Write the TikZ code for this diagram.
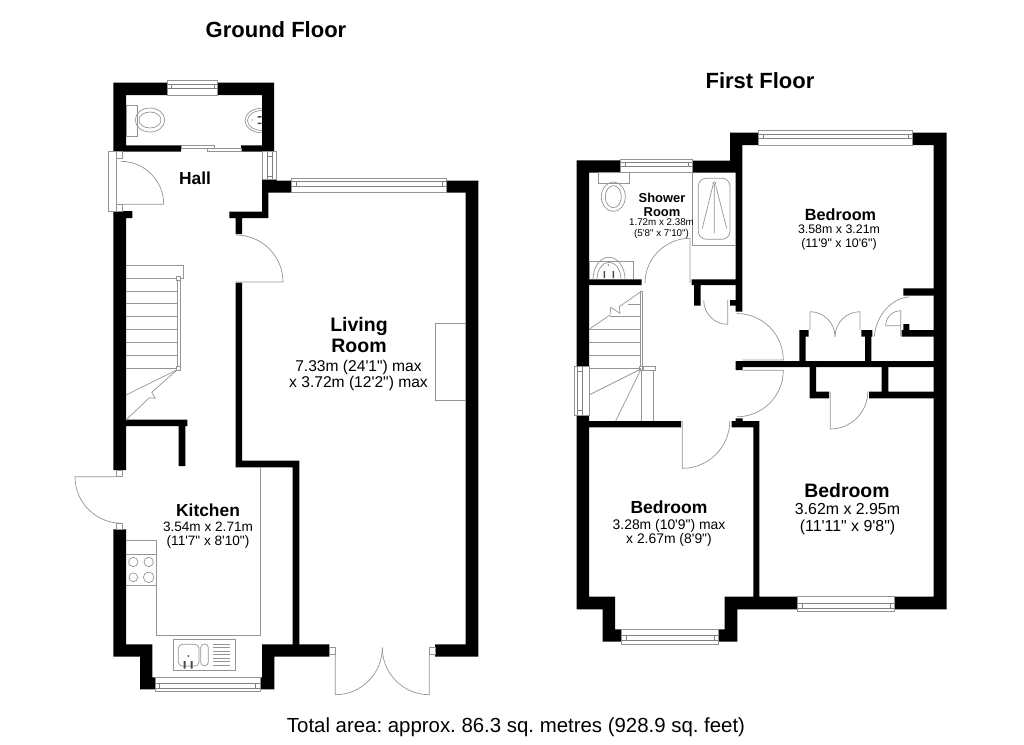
\documentclass[tikz,border=0pt]{standalone}
\usepackage{fontspec}
\setmainfont{Liberation Sans}
\newfontfamily\dimsfont{Liberation Sans}
\frenchspacing
\tikzset{
    wall/.style={fill=black,draw=none},
    fixture/.style={draw=black!42,line width=0.7pt},
    thinfix/.style={draw=black!50,line width=0.45pt},
    tap/.style={fill=black!70,draw=none},
    floorname/.style={font=\bfseries\fontsize{22}{24}\selectfont},
    roomname/.style={align=center,font=\bfseries\fontsize{17.4}{19}\selectfont},
    dims/.style={align=center,font=\dimsfont\fontsize{13.6}{14.7}\selectfont},
}
\begin{document}
\begin{tikzpicture}[x=1pt,y=-1pt]
    \useasboundingbox (0,0) rectangle (1024,744);

    % ground floor walls
    \fill[wall] (113.3,82.7) -- (167,82.7) -- (167,95) -- (126,95) -- (126,145.3) -- (181,145.3) -- (181,151.7) -- (113.3,151.7) -- cycle;
    \fill[wall] (217.7,82.7) -- (274,82.7) -- (274,151.7) -- (241,151.7) -- (241,145.3) -- (262,145.3) -- (262,95) -- (217.7,95) -- cycle;
    \fill[wall] (113.3,211) -- (132.3,211) -- (132.3,218) -- (126,218) -- (126,419.7) -- (187.3,419.7) -- (187.3,426) -- (185.3,426) -- (185.3,466) -- (178.7,466) -- (178.7,426) -- (126,426) -- (126,470) -- (113.3,470) -- cycle;
    \fill[wall] (113.3,529.3) -- (126,529.3) -- (126,644.3) -- (152.3,644.3) -- (152.3,677.3) -- (155,677.3) -- (155,689.3) -- (140,689.3) -- (140,656.7) -- (113.3,656.7) -- cycle;
    \fill[wall] (260,677.3) -- (262,677.3) -- (262,644.3) -- (292.7,644.3) -- (292.7,467.3) -- (235.7,467.3) -- (235.7,282.7) -- (242,282.7) -- (242,460.7) -- (299.3,460.7) -- (299.3,644.3) -- (329.3,644.3) -- (329.3,656.7) -- (274.3,656.7) -- (274.3,689.3) -- (260,689.3) -- cycle;
    \fill[wall] (262,179) -- (276.7,179) -- (276.7,180.7) -- (291.7,180.7) -- (291.7,192.7) -- (268.3,192.7) -- (268.3,218) -- (242,218) -- (242,234) -- (235.7,234) -- (235.7,218) -- (229.3,218) -- (229.3,211.7) -- (262,211.7) -- cycle;
    \fill[wall] (446.7,180.7) -- (478.3,180.7) -- (478.3,656.7) -- (435,656.7) -- (435,644.3) -- (465.7,644.3) -- (465.7,192.7) -- (446.7,192.7) -- cycle;

    % ground floor windows
    \draw[fixture] (167,80.7) rectangle (217.7,95);
    \draw[thinfix] (167,84) -- (217.7,84) (167,88.3) -- (217.7,88.3) (171,84) -- (171,88.3) (214,84) -- (214,88.3);
    \draw[fixture] (262,151.7) rectangle (276.7,179);
    \draw[thinfix] (267.7,151.7) -- (267.7,179) (272.3,151.7) -- (272.3,179) (267.7,156) -- (272.3,156) (267.7,176) -- (272.3,176);
    \draw[fixture] (291.7,178) rectangle (446.7,192.7);
    \draw[thinfix] (291.7,181.7) -- (446.7,181.7) (291.7,186) -- (446.7,186) (296.7,181.7) -- (296.7,186) (442,181.7) -- (442,186);
    \draw[fixture] (155,677.3) rectangle (260,691);
    \draw[thinfix] (155,683.3) -- (260,683.3) (155,688.3) -- (260,688.3) (159.3,683.3) -- (159.3,688.3) (255,683.3) -- (255,688.3);

    % ground floor doors
    \draw[fixture] (181,145.3) rectangle (214.3,148);
    \draw[fixture] (207.7,148) rectangle (241,151.7);
    \draw[fixture] (108,151.7) rectangle (116.7,211);
    \draw[fixture] (116.7,151.7) rectangle (122.7,158);
    \draw[fixture] (116.7,204.3) rectangle (122.7,211);
    \draw[fixture] (122.7,204.3) -- (163.7,204.3) arc[start angle=0,end angle=90,radius=43pt];
    \draw[fixture] (236,282) -- (283,282) arc[start angle=0,end angle=90,radius=47pt];
    \draw[fixture] (116.7,476.7) -- (75,476.7) arc[start angle=180,end angle=270,radius=46.5pt];
    \draw[fixture] (116.7,470) rectangle (122.7,476.7);
    \draw[fixture] (116.7,523.3) rectangle (122.7,529.3);
    \draw[fixture] (329.3,647.3) rectangle (335.3,654.7);
    \draw[fixture] (429.3,647.3) rectangle (435,654.7);
    \draw[fixture] (335.3,654.7) -- (335.3,694.7) arc[start angle=270,end angle=360,radius=47pt];
    \draw[fixture] (429.3,654.7) -- (429.3,694.7) arc[start angle=270,end angle=180,radius=47pt];

    % stairs, ground floor
    \draw[fixture] (126,265) -- (183.3,265) -- (183.3,278.3) -- (180,278.3);
    \foreach \y in {278.3,291,303.7,316.7,329.7,342.3,355.3,368.3}
        \draw[fixture] (126,\y) -- (177.3,\y);
    \draw[fixture] (177.3,280) rectangle (180,366.3);
    \draw[fixture] (176.7,276.3) rectangle (180.7,280.3);
    \draw[fixture] (176.7,366.3) rectangle (180.7,370.3);
    \draw[fixture] (176.7,370) -- (126,395);
    \draw[fixture] (177,370) -- (151.7,392.3) -- (155.3,398.3) -- (149.3,397.7) -- (126,420);

    % kitchen units
    \draw[fixture] (260,467.3) -- (260,635) -- (156.7,635) -- (156.7,540.3) -- (126,540.3);
    \draw[fixture] (126,554.3) -- (156.7,554.3) (126,585.3) -- (156.7,585.3);
    \draw[fixture] (133.3,562) circle[radius=4.7pt] (148.7,562) circle[radius=4.7pt];
    \draw[fixture] (133.3,577.3) circle[radius=4.4pt] (148.7,577.3) circle[radius=5.3pt];
    \draw[fixture] (173,639.3) rectangle (235,670.7);
    \draw[fixture,rounded corners=4pt] (178.3,644.3) rectangle (199,666);
    \draw[fixture,rounded corners=3.5pt] (200.7,644) rectangle (208.3,665.7);
    \foreach \y in {644,647.5,651,654.5,658,661.5,665}
        \draw[fixture] (213.3,\y) -- (230,\y);
    \fill[tap] (183.7,661) rectangle (185.7,668.5) (190.7,661) rectangle (192.7,668.5);
    \fill[tap] (188.3,656) circle[radius=1pt];

    % toilet and basin, ground floor
    \draw[fixture] (126,105) rectangle (137.3,136);
    \draw[fixture] (150,120) ellipse[x radius=14.7pt,y radius=12pt];
    \draw[fixture] (150,120) ellipse[x radius=11pt,y radius=8pt];
    \draw[fixture] (262,108.2) arc[start angle=90,end angle=270,x radius=17pt,y radius=12.3pt];
    \draw[fixture] (262,110.5) arc[start angle=90,end angle=270,x radius=14.5pt,y radius=10pt];
    \fill[tap] (257.5,116) rectangle (261.5,117.5) (257.5,122.5) rectangle (261.5,124);
    \fill[tap] (252,120) circle[radius=0.7pt];

    % living room chimney breast
    \draw[fixture] (465.7,323.3) -- (435,323.3) -- (435,400.7) -- (465.7,400.7);

    % first floor walls
    \fill[wall] (576.7,160.3) -- (620.7,160.3) -- (620.7,172.7) -- (589,172.7) -- (589,279.3) -- (641.7,279.3) -- (641.7,285) -- (589,285) -- (589,366) -- (576.7,366) -- cycle;
    \fill[wall] (692.3,160.7) -- (730,160.7) -- (730,132.7) -- (758.3,132.7) -- (758.3,145) -- (742.3,145) -- (742.3,311.7) -- (735.7,311.7) -- (735.7,305.7) -- (730,305.7) -- (730,300) -- (735.7,300) -- (735.7,285) -- (700.7,285) -- (700.7,305.7) -- (694,305.7) -- (694,285) -- (691.7,285) -- (691.7,279.3) -- (735.7,279.3) -- (735.7,172.7) -- (692.3,172.7) -- cycle;
    \fill[wall] (912.7,132.7) -- (946.7,132.7) -- (946.7,609.3) -- (894.3,609.3) -- (894.3,596.7) -- (933.7,596.7) -- (933.7,145) -- (912.7,145) -- cycle;
    \fill[wall] (735.7,361) rectangle (934,367) (735.7,361) rectangle (742.7,370);
    \fill[wall] (799.3,336) rectangle (805.7,361) (799.3,330) rectangle (808.7,336.7);
    \fill[wall] (865,336) rectangle (871.3,361) (861.3,330) rectangle (872.3,336.7);
    \fill[wall] (809.7,367) rectangle (816,398.3) (809.7,391.7) rectangle (829,398.3);
    \fill[wall] (881.7,367) rectangle (888.3,391.7) (869,391.7) rectangle (934,398.3);
    \fill[wall] (903.3,288.3) rectangle (934,295.7) (901.7,330) rectangle (934,336.7) (903.3,324) rectangle (909.3,330);
    \fill[wall] (576.7,415) -- (589,415) -- (589,421) -- (681,421) -- (681,427.3) -- (589,427.3) -- (589,596.7) -- (615,596.7) -- (615,629.3) -- (621.7,629.3) -- (621.7,641.7) -- (602.7,641.7) -- (602.7,609.3) -- (576.7,609.3) -- cycle;
    \fill[wall] (718.3,629.3) -- (724.7,629.3) -- (724.7,596.7) -- (753.3,596.7) -- (753.3,427.3) -- (731.7,427.3) -- (731.7,421) -- (735.7,421) -- (735.7,418.3) -- (742.7,418.3) -- (742.7,421) -- (759.3,421) -- (759.3,596.7) -- (797.3,596.7) -- (797.3,609.3) -- (737.3,609.3) -- (737.3,641.7) -- (718.3,641.7) -- cycle;

    % first floor windows
    \draw[fixture] (620.7,159) rectangle (692.3,172.7);
    \draw[thinfix] (620.7,162) -- (692.3,162) (620.7,166.7) -- (692.3,166.7) (625,162) -- (625,166.7) (688,162) -- (688,166.7);
    \draw[fixture] (758.3,130.7) rectangle (912.7,145);
    \draw[thinfix] (758.3,134) -- (912.7,134) (758.3,138.3) -- (912.7,138.3) (763.3,134) -- (763.3,138.3) (908.3,134) -- (908.3,138.3);
    \draw[fixture] (574,366) rectangle (589,415);
    \draw[thinfix] (577.3,366) -- (577.3,415) (582,366) -- (582,415) (577.3,371.7) -- (582,371.7) (577.3,410) -- (582,410);
    \draw[fixture] (621.7,629.3) rectangle (718.3,644.3);
    \draw[thinfix] (621.7,635.3) -- (718.3,635.3) (621.7,640) -- (718.3,640) (626,635.3) -- (626,640) (714,635.3) -- (714,640);
    \draw[fixture] (797.3,596.7) rectangle (894.3,611.7);
    \draw[thinfix] (797.3,603.3) -- (894.3,603.3) (797.3,608.3) -- (894.3,608.3) (802.3,603.3) -- (802.3,608.3) (890,603.3) -- (890,608.3);

    % first floor doors
    \draw[fixture] (690,283) -- (690,238.3) arc[start angle=90,end angle=180,radius=45pt];
    \draw[fixture] (727.7,300) -- (727.7,324.3) arc[start angle=270,end angle=180,radius=24pt];
    \draw[fixture] (742.7,360) -- (783.3,360) arc[start angle=0,end angle=90,radius=46.5pt];
    \draw[fixture] (742.7,370.3) -- (783.3,370.3) arc[start angle=0,end angle=-90,radius=46.5pt];
    \draw[fixture] (682.3,421) -- (682.3,468.3) arc[start angle=270,end angle=360,radius=47.5pt];
    \draw[fixture] (830.3,391.7) -- (830.3,429) arc[start angle=270,end angle=360,radius=37.5pt];
    \draw[fixture] (810,330) -- (810,311.7) arc[start angle=90,end angle=0,radius=25pt];
    \draw[fixture] (860,330) -- (860,311.7) arc[start angle=90,end angle=180,radius=25pt];
    \draw[fixture] (874.3,336.7) .. controls (876,315) and (892,298) .. (909,297);
    \draw[fixture] (900.7,336) -- (900.7,310.7) arc[start angle=90,end angle=180,radius=15pt] -- (901,325.7);

    % stairs, first floor
    \draw[fixture] (640.7,291.7) rectangle (642.7,366.7);
    \foreach \y/\xs in {304.3/628,316.7/610,329.7/589,342.7/589,355.3/589,368.3/589}
        \draw[fixture] (\xs,\y) -- (640.7,\y);
    \draw[fixture] (640.7,291.7) -- (619.3,306.7) -- (620,313.3) -- (610.7,307.3) -- (610,315) -- (589,329.3);
    \draw[fixture] (642.7,366.7) rectangle (655,370.3);
    \draw[fixture] (639.7,366.7) rectangle (643.2,370.3);
    \draw[fixture] (641,369) -- (589,395);
    \draw[fixture] (641,369) -- (615.7,421);
    \draw[fixture] (641.7,370.3) -- (641.7,421) (653.3,370.3) -- (653.3,421);

    % bath, toilet and basin, first floor
    \draw[fixture] (692.3,172.7) -- (692.3,245.7) -- (735.7,245.7);
    \draw[fixture,rounded corners=8pt] (698.3,178.3) rectangle (730,239.3);
    \draw[fixture] (702.3,228.3) -- (713,185) (714.3,233.3) -- (714.3,185) (726.7,228.3) -- (715.6,185);
    \draw[fixture] (714.3,183.3) circle[radius=1.5pt];
    \draw[fixture] (598.3,172.7) rectangle (629.3,183.3);
    \draw[fixture] (613.3,196.7) ellipse[x radius=12pt,y radius=14.7pt];
    \draw[fixture] (613.3,196.7) ellipse[x radius=8pt,y radius=11pt];
    \draw[fixture] (589,279.3) -- (589,261) -- (633.3,261) -- (633.3,279.3);
    \draw[fixture] (593,279.3) arc[start angle=180,end angle=0,x radius=16pt,y radius=22pt];
    \draw[fixture] (597,279.3) arc[start angle=180,end angle=0,x radius=12pt,y radius=17pt];
    \fill[tap] (603.5,271) rectangle (605,278) (612.5,271) rectangle (614,278);
    \fill[tap] (608.3,265) circle[radius=0.7pt];

    % labels
    \node[floorname] (groundfloor) at (276,30) {Ground Floor};
    \node[floorname] (firstfloor) at (760,81) {First Floor};
    \node[roomname] (hall) at (195,178) {Hall};
    \node[roomname,font=\bfseries\fontsize{19.5}{20.5}\selectfont] (living) at (359,335) {Living\\Room};
    \node[dims,font=\dimsfont\fontsize{15.6}{16}\selectfont] (livingdims) at (358.5,375.5) {7.33m (24'1") max\\x 3.72m (12'2") max};
    \node[roomname] (kitchen) at (208,510) {Kitchen};
    \node[dims] (kitchendims) at (208,535) {3.54m x 2.71m\\(11'7" x 8'10")};
    \node[roomname,font=\bfseries\fontsize{12.9}{14}\selectfont] (shower) at (662,205) {Shower\\Room};
    \node[dims,font=\dimsfont\fontsize{9.8}{10.5}\selectfont] (showerdims) at (661.5,228.5) {1.72m x 2.38m\\(5'8" x 7'10")};
    \node[roomname,font=\bfseries\fontsize{16.2}{18}\selectfont] (bedroomback) at (840.5,215) {Bedroom};
    \node[dims,font=\dimsfont\fontsize{12.4}{14}\selectfont] (bedroombackdims) at (839,237) {3.58m x 3.21m\\(11'9" x 10'6")};
    \node[roomname,font=\bfseries\fontsize{17.5}{19}\selectfont] (bedroomleft) at (669,507.5) {Bedroom};
    \node[dims,font=\dimsfont\fontsize{13.9}{14.2}\selectfont] (bedroomleftdims) at (669,532.5) {3.28m (10'9") max\\x 2.67m (8'9")};
    \node[roomname,font=\bfseries\fontsize{19.4}{21}\selectfont] (bedroomright) at (847,491) {Bedroom};
    \node[dims,font=\dimsfont\fontsize{15.9}{16.3}\selectfont] (bedroomrightdims) at (847.5,519) {3.62m x 2.95m\\(11'11" x 9'8")};
    \node[font=\fontsize{20.4}{22}\selectfont] (totalarea) at (516,727) {Total area: approx. 86.3 sq. metres (928.9 sq. feet)};

\end{tikzpicture}
\end{document}
